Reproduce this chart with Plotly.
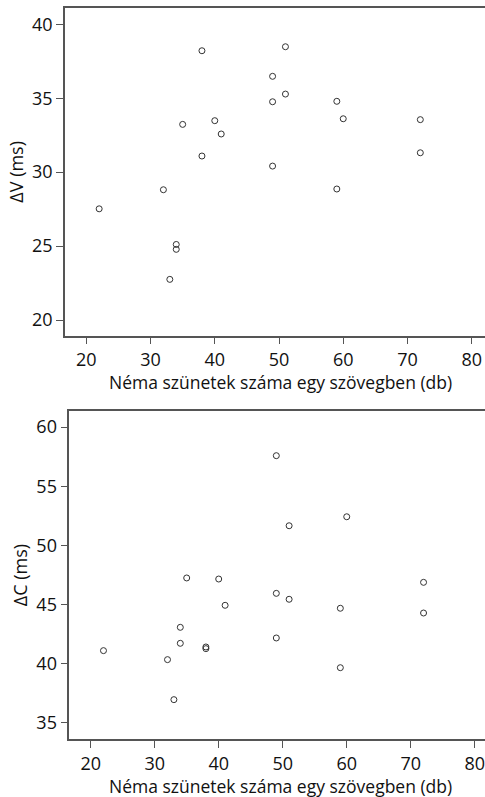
import plotly.graph_objects as go

# Number of silent pauses per text (db)
pauses_v = [38, 51, 49, 51, 49, 59, 60, 72, 35, 40, 41, 38, 49, 72, 32, 59, 22, 34, 34, 33]
# ΔV (ms)
delta_v = [38.21, 38.48, 36.48, 35.28, 34.76, 34.79, 33.61, 33.55, 33.23, 33.48,
           32.58, 31.09, 30.41, 31.31, 28.81, 28.86, 27.52, 25.11, 24.78, 22.75]

pauses_c = [49, 51, 60, 35, 40, 72, 49, 51, 41, 59, 72, 34, 34, 49, 38, 38, 22, 32, 59, 33]
# ΔC (ms)
delta_c = [57.58, 51.66, 52.42, 47.25, 47.16, 46.88, 45.95, 45.45, 44.94, 44.69,
           44.29, 43.08, 41.73, 42.18, 41.42, 41.28, 41.11, 40.35, 39.67, 36.97]

x_title = "Néma szünetek száma egy szövegben (db)"
x_ticks = [20, 30, 40, 50, 60, 70, 80]
v_ticks = [20, 25, 30, 35, 40]
c_ticks = [35, 40, 45, 50, 55, 60]

W, H = 485, 797
FONT = "Open Sans"
LINE = "#555555"
TEXT = "#111111"

marker = dict(symbol="circle-open", size=6, color="#333333", line=dict(width=1, color="#333333"))

fig = go.Figure()
fig.add_trace(go.Scatter(x=pauses_v, y=delta_v, mode="markers", marker=marker,
                         xaxis="x", yaxis="y", showlegend=False))
fig.add_trace(go.Scatter(x=pauses_c, y=delta_c, mode="markers", marker=marker,
                         xaxis="x2", yaxis="y2", showlegend=False))

def xaxis(domain, rng, anchor):
    return dict(domain=domain, range=rng, anchor=anchor, tickvals=x_ticks,
                showgrid=False, zeroline=False, showline=True, mirror=True,
                linecolor=LINE, linewidth=1.5, ticks="outside", ticklen=7,
                tickcolor=LINE, tickfont=dict(size=18, color=TEXT, family=FONT),
                ticklabeloverflow="allow", automargin=False)

def yaxis(domain, rng, anchor, ticks, title):
    return dict(domain=domain, range=rng, anchor=anchor, tickvals=ticks,
                showgrid=False, zeroline=False, showline=True, mirror=False,
                linecolor=LINE, linewidth=1.5, ticks="outside", ticklen=7,
                tickcolor=LINE, tickfont=dict(size=18, color=TEXT, family=FONT),
                title=dict(text=title, font=dict(size=18, color=TEXT, family=FONT), standoff=4),
                automargin=False)

# x-axis titles: centred at x = 280 px, top edge just below the tick labels
titles = [
    dict(text=x_title, xref="paper", yref="paper", x=280 / W, y=1 - top_px / H,
         xanchor="center", yanchor="top", showarrow=False, borderpad=0,
         font=dict(size=17.5, color=TEXT, family=FONT))
    for top_px in (369, 772.5)
]

fig.update_layout(
    width=W, height=H,
    margin=dict(l=0, r=0, t=0, b=0),
    paper_bgcolor="white", plot_bgcolor="white",
    xaxis=xaxis([65 / W, 1], [16.68, 82.07], "y"),
    yaxis=yaxis([1 - 335.7 / H, 1 - 8 / H], [18.94, 41.1], "x", v_ticks, "ΔV (ms)"),
    xaxis2=xaxis([69.3 / W, 1], [16.66, 81.6], "y2"),
    yaxis2=yaxis([1 - 739.3 / H, 1 - 410.7 / H], [33.62, 61.38], "x2", c_ticks, "ΔC (ms)"),
    annotations=titles,
)

fig.write_html("out.html")
